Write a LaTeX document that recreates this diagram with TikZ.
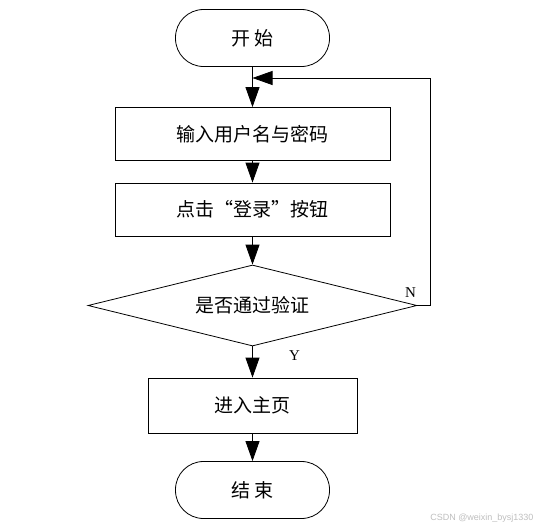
\documentclass[tikz,border=0pt]{standalone}
\usepackage{fontspec}
\newfontfamily\cjk{Noto Sans CJK SC}
\usepackage{tikz}
\usetikzlibrary{shapes.geometric, arrows.meta, positioning, calc}
\definecolor{mydark}{RGB}{0,0,0}
\definecolor{mymark}{RGB}{190,190,190}
\tikzset{
  terminal/.style={rectangle, draw=mydark, rounded corners=28pt,
    minimum width=154pt, minimum height=57pt, inner sep=0pt,
    font=\cjk\fontsize{19}{19}\selectfont, line width=0.8pt},
  process/.style={rectangle, draw=mydark, minimum width=275pt,
    minimum height=53pt, inner sep=0pt,
    font=\cjk\fontsize{19}{19}\selectfont, line width=0.8pt},
  decision/.style={diamond, draw=mydark, aspect=4.06, minimum width=329pt,
    minimum height=81pt, inner sep=0pt,
    font=\cjk\fontsize{19}{19}\selectfont, line width=0.8pt},
  arrow/.style={-{Triangle[length=20pt, width=14pt]}, line width=0.8pt, color=mydark},
  branch/.style={font=\fontspec{Liberation Serif}\fontsize{15}{15}\selectfont}
}
\begin{document}
\begin{tikzpicture}[x=1pt, y=-1pt]
  \useasboundingbox (0,0) rectangle (539,528);

  % Nodes
  \node[terminal] (start) at (252.5, 38) {开 始};
  \node[process] (input) at (252.5, 134) {输入用户名与密码};
  \node[process] (click) at (252.5, 209.5) {点击“登录”按钮};
  \node[decision] (check) at (252.5, 305.5) {是否通过验证};
  \node[process, minimum width=209pt, minimum height=55pt] (home) at (252.5, 405.5) {进入主页};
  \node[terminal] (stop) at (252.5, 490) {结 束};
  \coordinate (join) at (252.5, 78);

  % Flow
  \draw[arrow] (start) -- (input);
  \draw[arrow] (input) -- (click);
  \draw[arrow] (click) -- (check);
  \draw[arrow] (check) -- (home) node[branch, pos=0.3, right=33pt] {Y};
  \draw[arrow] (home) -- (stop);

  % Loop back
  \draw[arrow] (check.east) -- ++(13,0) |- (join);
  \node[branch, above left=4pt and -2pt] (nlabel) at (check.east) {N};

  % Watermark
  \node[font=\fontspec{Liberation Sans}\fontsize{9}{9}\selectfont, color=mymark,
    anchor=east] (mark) at (537, 518) {CSDN @weixin\_bysj1330};
\end{tikzpicture}
\end{document}
